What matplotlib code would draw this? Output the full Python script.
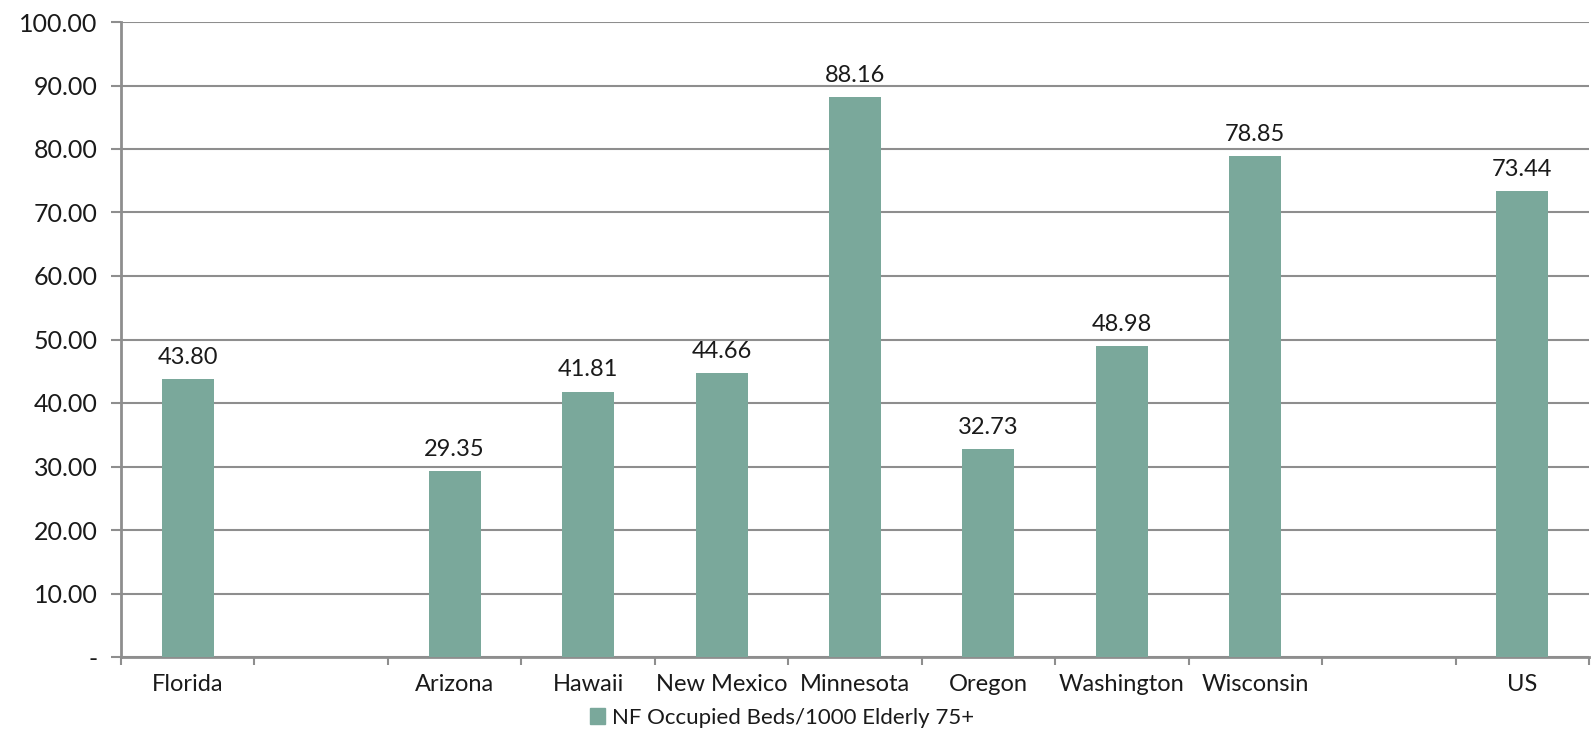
import matplotlib
matplotlib.use("Agg")
import matplotlib.pyplot as plt
from matplotlib.ticker import FixedLocator, FuncFormatter

categories = ["Florida", "", "Arizona", "Hawaii", "New Mexico", "Minnesota",
              "Oregon", "Washington", "Wisconsin", "", "US"]
values = [43.80, None, 29.35, 41.81, 44.66, 88.16, 32.73, 48.98, 78.85, None, 73.44]
series_name = "NF Occupied Beds/1000 Elderly 75+"
y_ticks = [0, 10, 20, 30, 40, 50, 60, 70, 80, 90, 100]

bar_color = "#7aa89b"
grid_color = "#8e8e8e"
text_color = "#1a1a1a"

plt.rcParams["font.family"] = ["Lato", "DejaVu Sans"]

fig = plt.figure(figsize=(15.92, 7.55), dpi=100)
ax = fig.add_axes([121 / 1592, 1 - 657 / 755, 1468 / 1592, 635 / 755])

n = len(categories)
xs = list(range(n))
for x, v in zip(xs, values):
    if v is None:
        continue
    ax.bar(x, v, width=0.39, color=bar_color, zorder=3)
    ax.annotate(f"{v:.2f}", (x, v), xytext=(0, 8), textcoords="offset points",
                ha="center", va="bottom", fontsize=17, color=text_color)

ax.set_xlim(-0.5, n - 0.5)
ax.set_ylim(0, 100)

ax.yaxis.set_major_locator(FixedLocator(y_ticks))
ax.yaxis.set_major_formatter(FuncFormatter(lambda v, p: "-" if v == 0 else f"{v:.2f}"))
ax.grid(axis="y", color=grid_color, linewidth=1.5, zorder=0)

ax.set_xticks(xs)
ax.set_xticklabels(categories)
ax.set_xticks([i - 0.5 for i in range(n + 1)], minor=True)
ax.tick_params(axis="x", which="major", length=0, pad=12, labelsize=17, labelcolor=text_color)
ax.tick_params(axis="x", which="minor", length=6, width=1.5, color=grid_color, direction="out")
ax.tick_params(axis="y", length=7, width=1.5, color=grid_color, pad=10, labelsize=18,
               labelcolor=text_color)

for side in ("top", "right"):
    ax.spines[side].set_visible(False)
for side in ("left", "bottom"):
    ax.spines[side].set_color(grid_color)
    ax.spines[side].set_linewidth(2)

handle = plt.Rectangle((0, 0), 1, 1, color=bar_color)
fig.legend([handle], [series_name], loc="center", bbox_to_anchor=(782 / 1592, 1 - 718 / 755),
           frameon=False, fontsize=16, handlelength=0.7, handleheight=0.7, handletextpad=0.3,
           labelcolor=text_color)

fig.savefig("out.png", dpi=100, facecolor="white")
